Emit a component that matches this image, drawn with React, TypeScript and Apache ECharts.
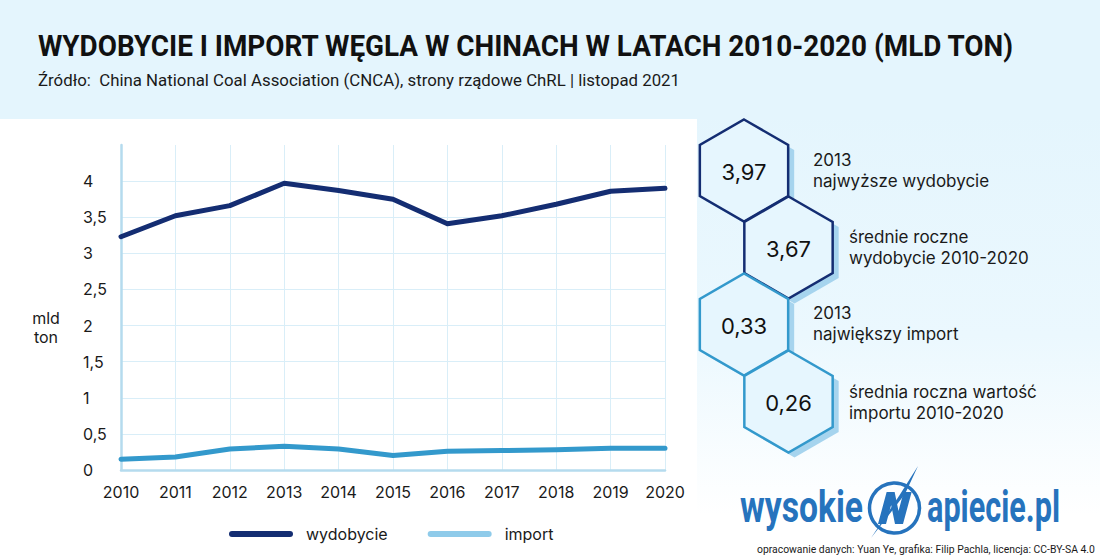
import React, { useEffect, useRef } from "react";
import * as echarts from "echarts";

const years = ["2010", "2011", "2012", "2013", "2014", "2015", "2016", "2017", "2018", "2019", "2020"];
const wydobycie = [3.23, 3.52, 3.66, 3.97, 3.87, 3.75, 3.41, 3.52, 3.68, 3.86, 3.9];
const importWegla = [0.15, 0.18, 0.29, 0.33, 0.29, 0.2, 0.26, 0.27, 0.28, 0.3, 0.3];

const statValues = ["3,97", "3,67", "0,33", "0,26"];
const statLabels = [
  ["2013", "najwyższe wydobycie"],
  ["średnie roczne", "wydobycie 2010-2020"],
  ["2013", "największy import"],
  ["średnia roczna wartość", "importu 2010-2020"],
];

const TITLE = "WYDOBYCIE I IMPORT WĘGLA W CHINACH W LATACH 2010-2020 (MLD TON)";
const SUBTITLE = "Źródło:  China National Coal Association (CNCA), strony rządowe ChRL | listopad 2021";
const FOOTER = "opracowanie danych: Yuan Ye, grafika: Filip Pachla, licencja: CC-BY-SA 4.0";

const NAVY = "#142d72";
const BLUE = "#3399cc";
const LIGHT = "#e4f5fd";
const LABEL_FONT = "Inter, 'Noto Sans', sans-serif";
const LOGO_BLUE = "#2673bd";

const measureCtx = document.createElement("canvas").getContext("2d");
function fitScale(text: string, font: string, target: number): number {
  if (!measureCtx) return 1;
  measureCtx.font = font;
  const w = measureCtx.measureText(text).width;
  return w > 0 ? target / w : 1;
}

function hexPoints(cx: number, cy: number, r: number): number[][] {
  const hw = (Math.sqrt(3) / 2) * r;
  return [
    [cx, cy - r],
    [cx + hw, cy - r / 2],
    [cx + hw, cy + r / 2],
    [cx, cy + r],
    [cx - hw, cy + r / 2],
    [cx - hw, cy - r / 2],
  ];
}

function buildGraphics(): any[] {
  const els: any[] = [];
  // backgrounds
  els.push({
    type: "rect",
    z: -100,
    shape: { x: 697, y: 110, width: 403, height: 450 },
    style: {
      fill: new echarts.graphic.LinearGradient(0, 0, 0, 1, [
        { offset: 0, color: LIGHT },
        { offset: 0.5, color: "#ebf8fe" },
        { offset: 0.9, color: "#ffffff" },
        { offset: 1, color: "#ffffff" },
      ]),
    },
  });
  els.push({
    type: "rect",
    z: -99,
    shape: { x: 0, y: 0, width: 1100, height: 119 },
    style: { fill: LIGHT },
  });

  // header texts
  const titleFont = "bold 30px Roboto";
  els.push({
    type: "text",
    x: 38,
    y: 46,
    scaleX: fitScale(TITLE, titleFont, 977),
    style: {
      text: TITLE,
      font: titleFont,
      fill: "#111111",
      textAlign: "left",
      textVerticalAlign: "middle",
    },
  });
  const subFont = "16px Roboto";
  els.push({
    type: "text",
    x: 38,
    y: 81,
    scaleX: fitScale(SUBTITLE, subFont, 642),
    style: {
      text: SUBTITLE,
      font: subFont,
      fill: "#1a1a1a",
      textAlign: "left",
      textVerticalAlign: "middle",
    },
  });

  // axis unit
  els.push({
    type: "text",
    x: 46,
    y: 327,
    style: {
      text: "mld\nton",
      font: `16px ${LABEL_FONT}`,
      fill: "#1a1a1a",
      textAlign: "center",
      textVerticalAlign: "middle",
      lineHeight: 19,
    },
  });

  // hexagon badges
  const R = 51;
  const centers = [
    [744, 170.5],
    [788.5, 247.5],
    [744, 324.5],
    [788.5, 401.5],
  ];
  const strokes = [NAVY, NAVY, BLUE, BLUE];
  centers.forEach(([cx, cy]) => {
    els.push({
      type: "polygon",
      z: 5,
      shape: { points: hexPoints(cx + 6, cy + 5, R) },
      style: { fill: "#a6d4ee" },
    });
  });
  centers.forEach(([cx, cy], i) => {
    els.push({
      type: "polygon",
      z: 6,
      shape: { points: hexPoints(cx, cy, R) },
      style: { fill: "#e6f6fe", stroke: strokes[i], lineWidth: 2.5, lineJoin: "miter" },
    });
    els.push({
      type: "text",
      z: 7,
      x: cx,
      y: cy + 1,
      style: {
        text: statValues[i],
        font: `22px ${LABEL_FONT}`,
        fill: "#111111",
        textAlign: "center",
        textVerticalAlign: "middle",
      },
    });
    const lx = i % 2 === 0 ? 813 : 849;
    const ly = [160, 237, 313, 392][i];
    statLabels[i].forEach((line, j) => {
      els.push({
        type: "text",
        z: 7,
        x: lx,
        y: ly + j * 21,
        style: {
          text: line,
          font: `17px ${LABEL_FONT}`,
          fill: "#1a1a1a",
          textAlign: "left",
          textVerticalAlign: "middle",
        },
      });
    });
  });

  // logo
  const logoFont = "bold 44px Roboto";
  els.push({
    type: "text",
    x: 740,
    y: 507,
    scaleX: fitScale("wysokie", logoFont, 123),
    style: { text: "wysokie", font: logoFont, fill: LOGO_BLUE, textAlign: "left", textVerticalAlign: "middle" },
  });
  els.push({
    type: "text",
    x: 927,
    y: 507,
    scaleX: fitScale("apiecie.pl", logoFont, 133),
    style: { text: "apiecie.pl", font: logoFont, fill: LOGO_BLUE, textAlign: "left", textVerticalAlign: "middle" },
  });
  els.push({
    type: "circle",
    shape: { cx: 894.5, cy: 508, r: 25 },
    style: { fill: "none", stroke: LOGO_BLUE, lineWidth: 3.5 },
  });
  // slanted N
  const nBase = [
    [0, 32], [0, 0], [8, 0], [17, 19], [17, 0], [25, 0], [25, 32], [17, 32], [8, 13], [8, 32],
  ];
  els.push({
    type: "polygon",
    shape: { points: nBase.map(([x, y]) => [878 + x + (32 - y) * 0.27, 492 + y]) },
    style: { fill: LOGO_BLUE },
  });
  els.push({
    type: "polygon",
    shape: { points: [[918, 466], [905, 494], [871, 538], [899, 496]] },
    style: { fill: LOGO_BLUE },
  });

  const footFont = "10.5px Roboto";
  els.push({
    type: "text",
    x: 757,
    y: 549,
    scaleX: fitScale(FOOTER, footFont, 338),
    style: { text: FOOTER, font: footFont, fill: "#1a1a1a", textAlign: "left", textVerticalAlign: "middle" },
  });
  return els;
}

export default function App() {
  const ref = useRef<HTMLDivElement>(null);

  useEffect(() => {
    document.body.style.margin = "0";
    if (!ref.current) return;
    const chart = echarts.init(ref.current, null, { renderer: "svg" });
    const legendIcon = "path://M3,0 H61 A3,3 0 0 1 61,6 H3 A3,3 0 0 1 3,0 Z";
    chart.setOption({
      animation: false,
      backgroundColor: "#ffffff",
      grid: { left: 121, right: 435, top: 145, bottom: 90, containLabel: false },
      legend: {
        left: 224,
        top: 521,
        itemWidth: 64,
        itemHeight: 6,
        itemGap: 40,
        icon: legendIcon,
        textStyle: { fontFamily: LABEL_FONT, fontSize: 16, color: "#1a1a1a", padding: [0, 0, 0, 8] },
        data: [
          { name: "wydobycie", itemStyle: { color: NAVY } },
          { name: "import", itemStyle: { color: "#8fcbea" } },
        ],
      },
      xAxis: {
        type: "category",
        data: years,
        boundaryGap: false,
        axisLine: { lineStyle: { color: "#b5dbee", width: 2.5 } },
        axisTick: { show: false },
        splitLine: { show: true, lineStyle: { color: "#d9eef8", width: 1 } },
        axisLabel: { fontFamily: LABEL_FONT, fontSize: 16, color: "#1a1a1a", margin: 14 },
      },
      yAxis: {
        type: "value",
        min: 0,
        max: 4.5,
        interval: 0.5,
        axisLine: { show: true, lineStyle: { color: "#b5dbee", width: 2.5 } },
        axisTick: { show: false },
        splitLine: { show: true, showMaxLine: false, lineStyle: { color: "#d9eef8", width: 1 } },
        axisLabel: {
          fontFamily: LABEL_FONT,
          fontSize: 16,
          color: "#1a1a1a",
          align: "left",
          margin: 38,
          showMaxLabel: false,
          formatter: (v: number) => (v >= 4.5 ? "" : String(v).replace(".", ",")),
        },
      },
      series: [
        {
          name: "wydobycie",
          type: "line",
          data: wydobycie,
          symbol: "none",
          lineStyle: { color: NAVY, width: 5, cap: "round", join: "round" },
          itemStyle: { color: NAVY },
          z: 3,
        },
        {
          name: "import",
          type: "line",
          data: importWegla,
          symbol: "none",
          lineStyle: { color: BLUE, width: 5, cap: "round", join: "round" },
          itemStyle: { color: BLUE },
          z: 3,
        },
      ],
      graphic: { elements: buildGraphics() },
    });
    return () => chart.dispose();
  }, []);

  return <div ref={ref} style={{ width: 1100, height: 560 }} />;
}
